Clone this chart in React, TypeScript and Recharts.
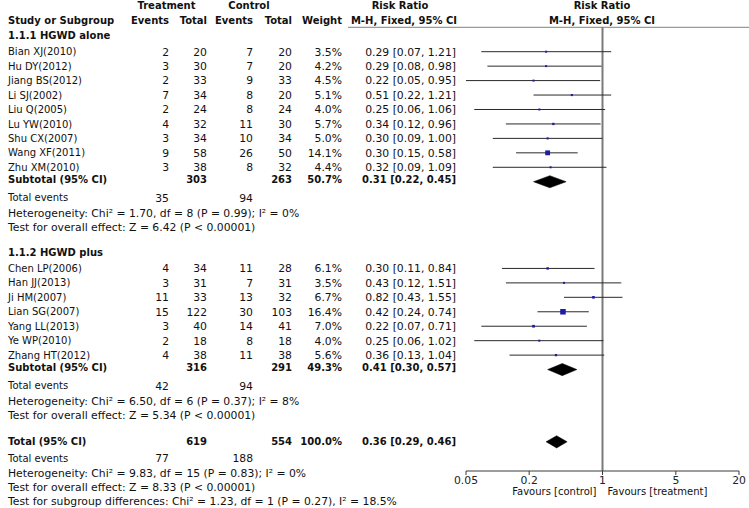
import React from 'react';
import { ScatterChart, Scatter, XAxis, YAxis, ReferenceLine, ReferenceArea } from 'recharts';

// ---------------- data ----------------
const groupNames = ['1.1.1 HGWD alone', '1.1.2 HGWD plus'];

const studies1 = ['Bian XJ(2010)', 'Hu DY(2012)', 'Jiang BS(2012)', 'Li SJ(2002)', 'Liu Q(2005)', 'Lu YW(2010)', 'Shu CX(2007)', 'Wang XF(2011)', 'Zhu XM(2010)'];
const trtEvents1 = [2, 3, 2, 7, 2, 4, 3, 9, 3];
const trtTotal1 = [20, 30, 33, 34, 24, 32, 34, 58, 38];
const ctlEvents1 = [7, 7, 9, 8, 8, 11, 10, 26, 8];
const ctlTotal1 = [20, 20, 33, 20, 24, 30, 34, 50, 32];
const weight1 = [3.5, 4.2, 4.5, 5.1, 4.0, 5.7, 5.0, 14.1, 4.4];
const rr1 = [0.29, 0.29, 0.22, 0.51, 0.25, 0.34, 0.30, 0.30, 0.32];
const lo1 = [0.07, 0.08, 0.05, 0.22, 0.06, 0.12, 0.09, 0.15, 0.09];
const hi1 = [1.21, 0.98, 0.95, 1.21, 1.06, 0.96, 1.00, 0.58, 1.09];

const studies2 = ['Chen LP(2006)', 'Han JJ(2013)', 'Ji HM(2007)', 'Lian SG(2007)', 'Yang LL(2013)', 'Ye WP(2010)', 'Zhang HT(2012)'];
const trtEvents2 = [4, 3, 11, 15, 3, 2, 4];
const trtTotal2 = [34, 31, 33, 122, 40, 18, 38];
const ctlEvents2 = [11, 7, 13, 30, 14, 8, 11];
const ctlTotal2 = [28, 31, 32, 103, 41, 18, 38];
const weight2 = [6.1, 3.5, 6.7, 16.4, 7.0, 4.0, 5.6];
const rr2 = [0.30, 0.43, 0.82, 0.42, 0.22, 0.25, 0.36];
const lo2 = [0.11, 0.12, 0.43, 0.24, 0.07, 0.06, 0.13];
const hi2 = [0.84, 1.51, 1.55, 0.74, 0.71, 1.02, 1.04];

// subtotal 1, subtotal 2, overall total
const sumTrtEvents = [35, 42, 77];
const sumCtlEvents = [94, 94, 188];
const sumTrtTotal = [303, 316, 619];
const sumCtlTotal = [263, 291, 554];
const sumWeight = [50.7, 49.3, 100.0];
const sumRR = [0.31, 0.41, 0.36];
const sumLo = [0.22, 0.30, 0.29];
const sumHi = [0.45, 0.57, 0.46];
const hetTexts = [
  'Heterogeneity: Chi² = 1.70, df = 8 (P = 0.99); I² = 0%',
  'Heterogeneity: Chi² = 6.50, df = 6 (P = 0.37); I² = 8%',
  'Heterogeneity: Chi² = 9.83, df = 15 (P = 0.83); I² = 0%',
];
const effectTexts = [
  'Test for overall effect: Z = 6.42 (P < 0.00001)',
  'Test for overall effect: Z = 5.34 (P < 0.00001)',
  'Test for overall effect: Z = 8.33 (P < 0.00001)',
];
const subgroupText = 'Test for subgroup differences: Chi² = 1.23, df = 1 (P = 0.27), I² = 18.5%';

const xTicks = [0.05, 0.2, 1, 5, 20];
const axisLabels = ['Favours [control]', 'Favours [treatment]'];
const headerTop = ['Treatment', 'Control', 'Risk Ratio', 'Risk Ratio'];
const headerBottom = ['Study or Subgroup', 'Events', 'Total', 'Events', 'Total', 'Weight', 'M-H, Fixed, 95% CI', 'M-H, Fixed, 95% CI'];

// ---------------- row table ----------------
type Row = {
  kind: string;
  label?: string;
  te?: number; tt?: number; ce?: number; ct?: number;
  w?: number; rr?: number; lo?: number; hi?: number;
  slot: number;
};

const rows: Row[] = [];
const add = (r: Omit<Row, 'slot'>) => rows.push({ ...r, slot: 0 });
add({ kind: 'colhead' });
const groups = [
  { names: studies1, te: trtEvents1, tt: trtTotal1, ce: ctlEvents1, ct: ctlTotal1, w: weight1, rr: rr1, lo: lo1, hi: hi1 },
  { names: studies2, te: trtEvents2, tt: trtTotal2, ce: ctlEvents2, ct: ctlTotal2, w: weight2, rr: rr2, lo: lo2, hi: hi2 },
];
groups.forEach((g, gi) => {
  add({ kind: 'group', label: groupNames[gi] });
  g.names.forEach((n, i) =>
    add({ kind: 'study', label: n, te: g.te[i], tt: g.tt[i], ce: g.ce[i], ct: g.ct[i], w: g.w[i], rr: g.rr[i], lo: g.lo[i], hi: g.hi[i] })
  );
  add({ kind: 'subtotal', label: 'Subtotal (95% CI)', tt: sumTrtTotal[gi], ct: sumCtlTotal[gi], w: sumWeight[gi], rr: sumRR[gi], lo: sumLo[gi], hi: sumHi[gi] });
  add({ kind: 'events', label: 'Total events', te: sumTrtEvents[gi], ce: sumCtlEvents[gi] });
  add({ kind: 'het', label: hetTexts[gi] });
  add({ kind: 'test', label: effectTexts[gi] });
  add({ kind: 'blank' });
});
add({ kind: 'total', label: 'Total (95% CI)', tt: sumTrtTotal[2], ct: sumCtlTotal[2], w: sumWeight[2], rr: sumRR[2], lo: sumLo[2], hi: sumHi[2] });
add({ kind: 'events', label: 'Total events', te: sumTrtEvents[2], ce: sumCtlEvents[2] });
add({ kind: 'het', label: hetTexts[2] });
add({ kind: 'test', label: effectTexts[2] });
add({ kind: 'test', label: subgroupText });

const FIRST_SLOT = -2;
rows.forEach((r, i) => { r.slot = i + FIRST_SLOT; });
const rowBySlot = new Map<number, Row>(rows.map((r) => [r.slot, r]));
const tickSlots = rows.filter((r) => r.kind !== 'blank').map((r) => r.slot);
const studyPoints = rows.filter((r) => r.kind === 'study').map((r) => ({ x: r.rr, y: r.slot, w: r.w }));
const studyRows = rows.filter((r) => r.kind === 'study');
const pooledRows = rows.filter((r) => r.kind === 'subtotal' || r.kind === 'total');

// ---------------- styling ----------------
const FONT = '"DejaVu Sans", Verdana, sans-serif';
const TXT = '#111';
const COL = { name: 8, te: 169, tt: 207, ce: 253, ct: 292, w: 342, rr: 456, rrHead: 404, plotHead: 602, trtHead: 166.5, ctlHead: 249 };
const KIND_DY: Record<string, number> = { colhead: 0, group: -2, study: 0, subtotal: -2.5, total: 0, events: 1.7, het: 2.6, test: 1.8 };

const T = ({ x, y, anchor = 'start', bold = false, size, children }: any) => (
  <text
    x={x}
    y={y}
    dy="0.36em"
    textAnchor={anchor}
    fontFamily={FONT}
    fontSize={size ?? 10}
    fontWeight={bold ? 'bold' : 'normal'}
    fill={TXT}
  >
    {children}
  </text>
);

const fmtRR = (r: Row) => `${r.rr!.toFixed(2)} [${r.lo!.toFixed(2)}, ${r.hi!.toFixed(2)}]`;
const fmtW = (w: number) => `${w.toFixed(1)}%`;
const NUM = 10.8;
const STAT = 10.8;

const RowTick = (props: any) => {
  const row = rowBySlot.get(props.payload.value);
  if (!row) return <g />;
  const y = props.y + (KIND_DY[row.kind] ?? 0);
  switch (row.kind) {
    case 'colhead': {
      const y1 = props.y - 17;
      const y2 = props.y - 2;
      return (
        <g>
          <T x={COL.trtHead} y={y1} anchor="middle" bold>{headerTop[0]}</T>
          <T x={COL.ctlHead} y={y1} anchor="middle" bold>{headerTop[1]}</T>
          <T x={COL.rrHead - 4} y={y1} anchor="middle" bold>{headerTop[2]}</T>
          <T x={COL.plotHead} y={y1} anchor="middle" bold>{headerTop[3]}</T>
          <T x={COL.name} y={y2} bold>{headerBottom[0]}</T>
          <T x={COL.te} y={y2} anchor="end" bold>{headerBottom[1]}</T>
          <T x={COL.tt} y={y2} anchor="end" bold>{headerBottom[2]}</T>
          <T x={COL.ce} y={y2} anchor="end" bold>{headerBottom[3]}</T>
          <T x={COL.ct} y={y2} anchor="end" bold>{headerBottom[4]}</T>
          <T x={COL.w} y={y2} anchor="end" bold>{headerBottom[5]}</T>
          <T x={COL.rrHead} y={y2} anchor="middle" bold>{headerBottom[6]}</T>
          <T x={COL.plotHead} y={y2} anchor="middle" bold>{headerBottom[7]}</T>
          <line x1={348} x2={749} y1={props.y + 4.5} y2={props.y + 4.5} stroke="#808080" strokeWidth={1} />
        </g>
      );
    }
    case 'group':
      return <g><T x={COL.name} y={y} bold>{row.label}</T></g>;
    case 'study':
      return (
        <g>
          <T x={COL.name} y={y}>{row.label}</T>
          <T x={COL.te} y={y} anchor="end" size={NUM}>{row.te}</T>
          <T x={COL.tt} y={y} anchor="end" size={NUM}>{row.tt}</T>
          <T x={COL.ce} y={y} anchor="end" size={NUM}>{row.ce}</T>
          <T x={COL.ct} y={y} anchor="end" size={NUM}>{row.ct}</T>
          <T x={COL.w} y={y} anchor="end" size={NUM}>{fmtW(row.w!)}</T>
          <T x={COL.rr} y={y} anchor="end" size={NUM}>{fmtRR(row)}</T>
        </g>
      );
    case 'subtotal':
    case 'total':
      return (
        <g>
          <T x={COL.name} y={y} bold>{row.label}</T>
          <T x={COL.tt} y={y} anchor="end" bold>{row.tt}</T>
          <T x={COL.ct} y={y} anchor="end" bold>{row.ct}</T>
          <T x={COL.w} y={y} anchor="end" bold>{fmtW(row.w!)}</T>
          <T x={COL.rr} y={y} anchor="end" bold>{fmtRR(row)}</T>
        </g>
      );
    case 'events':
      return (
        <g>
          <T x={COL.name} y={y}>{row.label}</T>
          <T x={COL.te} y={y} anchor="end" size={NUM}>{row.te}</T>
          <T x={COL.ce} y={y} anchor="end" size={NUM}>{row.ce}</T>
        </g>
      );
    default:
      return <g><T x={COL.name} y={y} size={STAT}>{row.label}</T></g>;
  }
};

const Square = (props: any) => {
  const { cx, cy, payload } = props;
  const s = Math.max(2, 0.3 * payload.w + 0.6);
  return <rect x={cx - s / 2} y={cy - s / 2} width={s} height={s} fill="#1c1ca6" />;
};

const Diamond = (props: any) => {
  const { x, y, width, height } = props;
  const my = y + height / 2;
  const pts = `${x},${my} ${x + width / 2},${y} ${x + width},${my} ${x + width / 2},${y + height}`;
  return <polygon points={pts} fill="#000" stroke="#000" strokeWidth={0.5} />;
};

const FavoursLabel = (props: any) => {
  const vb = props.viewBox;
  const cx = vb.x + vb.width / 2;
  const y = vb.y + 20.7;
  return (
    <g>
      <T x={cx - 6} y={y} anchor="end">{axisLabels[0]}</T>
      <T x={cx + 5} y={y}>{axisLabels[1]}</T>
    </g>
  );
};

export default function App() {
  return (
    <div style={{ width: 749, height: 508, background: '#fff' }}>
      <style>{'body{margin:0;background:#fff;}'}</style>
      <ScatterChart width={749} height={508} margin={{ top: 27, right: 10, bottom: 0, left: 0 }}>
        <XAxis
          type="number"
          dataKey="x"
          scale="log"
          domain={[0.05, 20]}
          allowDataOverflow
          ticks={xTicks}
          interval={0}
          tickFormatter={(v: number) => String(v)}
          height={37}
          stroke="#3a3a3a"
          tickSize={4}
          tickMargin={1}
          tick={{ fontSize: 10.8, fontFamily: FONT, fill: '#222' }}
          label={<FavoursLabel />}
        />
        <YAxis
          type="number"
          dataKey="y"
          domain={[-1.709, 29.02]}
          allowDataOverflow
          reversed
          ticks={tickSlots}
          interval={0}
          width={466}
          axisLine={false}
          tickLine={false}
          tick={(p: any) => <RowTick {...p} />}
        />
        <ReferenceLine x={1} stroke="#7a7a7a" strokeWidth={2} />
        {studyRows.map((r, i) => (
          <ReferenceLine
            key={`ci-${i}`}
            segment={[{ x: r.lo, y: r.slot }, { x: r.hi, y: r.slot }]}
            stroke="#2a2a2a"
            strokeWidth={1}
          />
        ))}
        {pooledRows.map((r, i) => (
          <ReferenceArea
            key={`dm-${i}`}
            x1={r.lo}
            x2={r.hi}
            y1={r.slot - 0.42}
            y2={r.slot + 0.42}
            shape={(p: any) => <Diamond {...p} />}
          />
        ))}
        <Scatter data={studyPoints} shape={(p: any) => <Square {...p} />} isAnimationActive={false} />
      </ScatterChart>
    </div>
  );
}
